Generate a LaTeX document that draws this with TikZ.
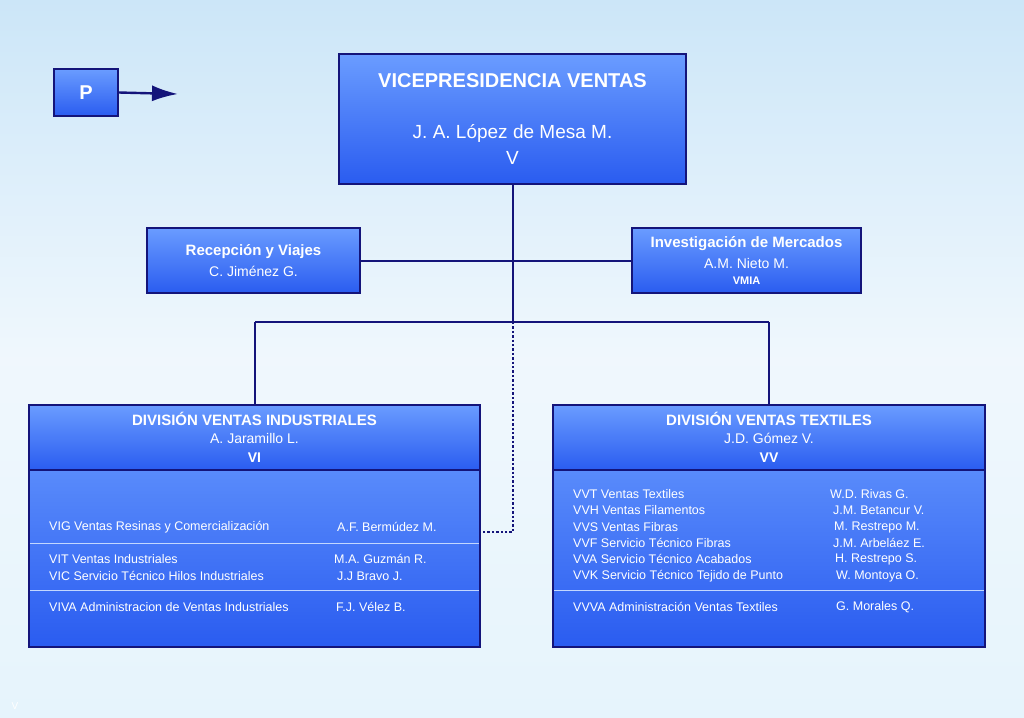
\documentclass[tikz,border=0pt]{standalone}
\usepackage{fontspec}
\setmainfont{Liberation Sans}
\usetikzlibrary{arrows.meta}
\definecolor{navy}{HTML}{14147A}
\definecolor{btop}{HTML}{6A9CFF}
\definecolor{bbot}{HTML}{2A5CF0}
\definecolor{bgtop}{HTML}{CCE6F8}
\definecolor{bgbot}{HTML}{E6F4FC}
\tikzset{
 box/.style={draw=navy,line width=1.2pt,top color=btop,bottom color=bbot},
 conn/.style={navy,line width=2.6pt},
 wt/.style={text=white,inner sep=0pt},
 it/.style={text=white,inner sep=0pt,anchor=west,font=\fontsize{12.5}{13}\selectfont},
}
\begin{document}
\begin{tikzpicture}[x=1pt,y=-1pt]
\shade[top color=bgtop,bottom color=bgbot,middle color=white!70!bgtop] (0,0) rectangle (1024,717);
\useasboundingbox (0,0) rectangle (1024,717);
% connectors
\coordinate (j1) at (513,261);
\coordinate (j2) at (513,322);
\coordinate (jl) at (255,322);
\coordinate (jr) at (769,322);
\coordinate (jd) at (513,532);
\draw[conn] (513,184) -- (j2);
\draw[conn] (360,261) -- (632,261);
\draw[conn] (jl) -- (jr);
\draw[conn] (jl) -- (255,405);
\draw[conn] (jr) -- (769,405);
\draw[navy,line width=2.4pt,dotted] (j2) -- (jd) -- (480,532);
% P
\node[box,minimum width=64,minimum height=47,text=white,font=\bfseries\fontsize{20}{20}\selectfont] (p) at (86,92.5) {P};
\coordinate (pa) at (178,94);
\draw[conn,line width=2.4pt,-{Latex[length=26pt,width=16pt]}] (p.east) -- (pa);
% VP
\node[box,minimum width=347,minimum height=130] (vp) at (512.5,119) {};
\node[wt,font=\bfseries\fontsize{20}{20}\selectfont] (vpt) at (512.5,81) {VICEPRESIDENCIA VENTAS};
\node[wt,font=\fontsize{19}{19}\selectfont] (vpn) at (512.5,133) {J. A. López de Mesa M.};
\node[wt,font=\fontsize{19}{19}\selectfont] (vpv) at (512.5,158) {V};
% Recepcion
\node[box,minimum width=213,minimum height=65] (rec) at (253.5,260.5) {};
\node[wt,font=\bfseries\fontsize{15}{15}\selectfont] (rect) at (253.5,252) {Recepción y Viajes};
\node[wt,font=\fontsize{14}{14}\selectfont] (recn) at (253.5,271) {C. Jiménez G.};
% Investigacion
\node[box,minimum width=229,minimum height=65] (inv) at (746.5,260.5) {};
\node[wt,font=\bfseries\fontsize{15}{15}\selectfont] (invt) at (746.5,244) {Investigación de Mercados};
\node[wt,font=\fontsize{14}{14}\selectfont] (invn) at (746.5,263) {A.M. Nieto M.};
\node[wt,font=\bfseries\fontsize{11}{11}\selectfont] (invc) at (746.5,281) {VMIA};
% Division Industrial
\node[box,minimum width=451,minimum height=242] (di) at (254.5,526) {};
\node[box,minimum width=451,minimum height=65] (dih) at (254.5,437.5) {};
\draw[white!60!btop,line width=0.6pt] (30,543) -- (479,543) (30,590) -- (479,590);
\node[wt,font=\bfseries\fontsize{15}{15}\selectfont] (dit) at (254.5,419) {DIVISIÓN VENTAS INDUSTRIALES};
\node[wt,font=\fontsize{14}{14}\selectfont] (din) at (254.5,438) {A. Jaramillo L.};
\node[wt,font=\bfseries\fontsize{14}{14}\selectfont] (dic) at (254.5,458) {VI};
\node[it] (i1) at (49,527) {VIG Ventas Resinas y Comercialización};
\node[it] (i1n) at (337,527) {A.F. Bermúdez M.};
\node[it] (i2) at (49,559) {VIT Ventas Industriales};
\node[it] (i2n) at (334,559) {M.A. Guzmán R.};
\node[it] (i3) at (49,576) {VIC Servicio Técnico Hilos Industriales};
\node[it] (i3n) at (337,576) {J.J Bravo J.};
\node[it] (i4) at (49,607) {VIVA Administracion de Ventas Industriales};
\node[it] (i4n) at (336,607) {F.J. Vélez B.};
% Division Textil
\node[box,minimum width=432,minimum height=242] (dt) at (769,526) {};
\node[box,minimum width=432,minimum height=65] (dth) at (769,437.5) {};
\draw[white!60!btop,line width=0.6pt] (554,590) -- (984,590);
\node[wt,font=\bfseries\fontsize{15}{15}\selectfont] (dtt) at (769,419) {DIVISIÓN VENTAS TEXTILES};
\node[wt,font=\fontsize{14}{14}\selectfont] (dtn) at (769,438) {J.D. Gómez V.};
\node[wt,font=\bfseries\fontsize{14}{14}\selectfont] (dtc) at (769,458) {VV};
\node[it] (t1) at (573,494) {VVT Ventas Textiles};
\node[it] (t1n) at (830,494) {W.D. Rivas G.};
\node[it] (t2) at (573,510) {VVH Ventas Filamentos};
\node[it] (t2n) at (833,510) {J.M. Betancur V.};
\node[it] (t3) at (573,527) {VVS Ventas Fibras};
\node[it] (t3n) at (834,527) {M. Restrepo M.};
\node[it] (t4) at (573,543) {VVF Servicio Técnico Fibras};
\node[it] (t4n) at (833,543) {J.M. Arbeláez E.};
\node[it] (t5) at (573,559) {VVA Servicio Técnico Acabados};
\node[it] (t5n) at (835,559) {H. Restrepo S.};
\node[it] (t6) at (573,576) {VVK Servicio Técnico Tejido de Punto};
\node[it] (t6n) at (836,576) {W. Montoya O.};
\node[it] (t7) at (573,607) {VVVA Administración Ventas Textiles};
\node[it] (t7n) at (836,607) {G. Morales Q.};
% footer
\node[text=white,inner sep=0pt,font=\fontsize{10}{10}\selectfont] (ft) at (15,706) {V};
\end{tikzpicture}
\end{document}
